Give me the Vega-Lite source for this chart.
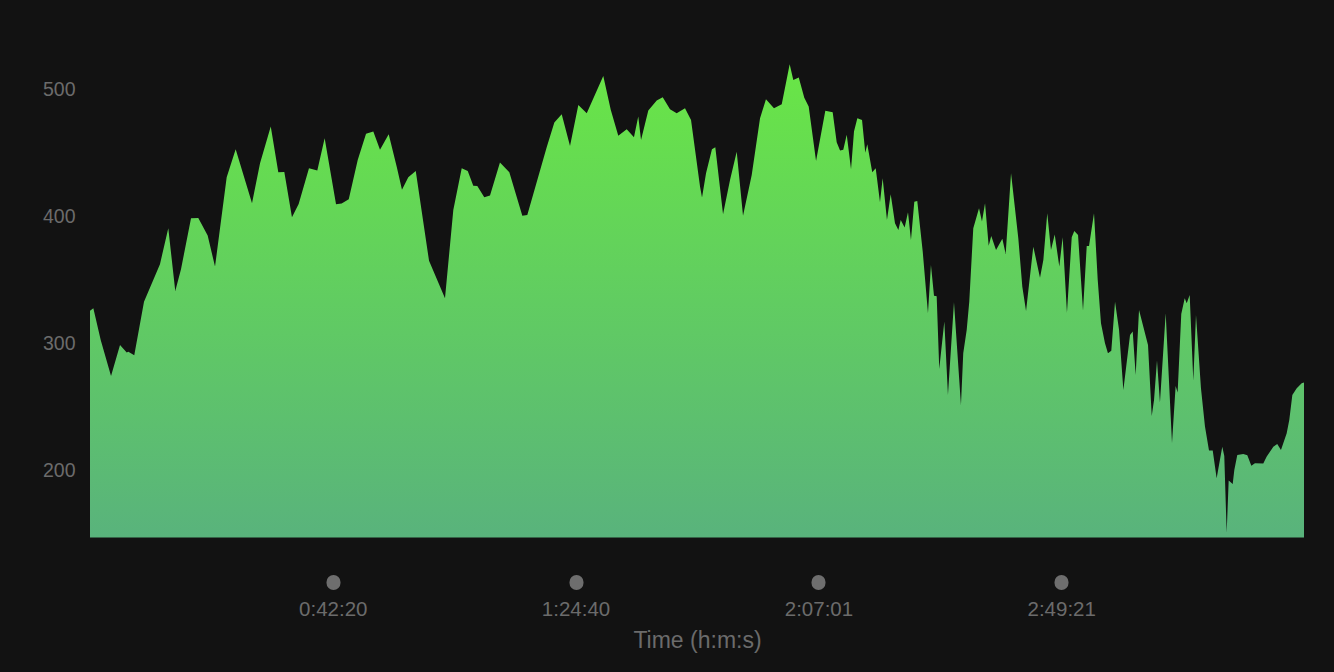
{
  "$schema": "https://vega.github.io/schema/vega-lite/v6.json",
  "width": 1214,
  "height": 473.5,
  "autosize": {"type": "none"},
  "padding": {"left": 90, "top": 64, "right": 30, "bottom": 134.5},
  "background": "#121212",
  "config": {
    "view": {"stroke": null},
    "font": "Liberation Sans"
  },
  "data": {
    "values": [
      {"t": 0, "v": 326.2}, {"t": 35, "v": 328.1}, {"t": 112, "v": 303.1}, {"t": 220, "v": 274.8},
      {"t": 314, "v": 299.2}, {"t": 384, "v": 293.2}, {"t": 401, "v": 293.9}, {"t": 463, "v": 291.1},
      {"t": 565, "v": 333.3}, {"t": 732, "v": 362.8}, {"t": 819, "v": 391.1}, {"t": 892, "v": 341.7},
      {"t": 952, "v": 358.8}, {"t": 1057, "v": 399.0}, {"t": 1133, "v": 399.2}, {"t": 1231, "v": 385.3},
      {"t": 1308, "v": 360.9}, {"t": 1430, "v": 431.3}, {"t": 1524, "v": 453.3}, {"t": 1695, "v": 410.8},
      {"t": 1779, "v": 442.3}, {"t": 1891, "v": 471.1}, {"t": 1970, "v": 435.2}, {"t": 2033, "v": 435.4},
      {"t": 2113, "v": 399.8}, {"t": 2183, "v": 410.2}, {"t": 2291, "v": 438.3}, {"t": 2378, "v": 436.5},
      {"t": 2455, "v": 462.0}, {"t": 2574, "v": 410.0}, {"t": 2633, "v": 410.5}, {"t": 2707, "v": 413.9},
      {"t": 2801, "v": 444.9}, {"t": 2888, "v": 465.4}, {"t": 2964, "v": 467.2}, {"t": 3034, "v": 452.8},
      {"t": 3125, "v": 465.1}, {"t": 3209, "v": 439.6}, {"t": 3264, "v": 421.3}, {"t": 3330, "v": 431.3},
      {"t": 3408, "v": 436.2}, {"t": 3547, "v": 365.4}, {"t": 3714, "v": 336.0}, {"t": 3801, "v": 405.5},
      {"t": 3889, "v": 438.3}, {"t": 3952, "v": 436.2}, {"t": 4010, "v": 424.6}, {"t": 4052, "v": 424.4},
      {"t": 4125, "v": 415.5}, {"t": 4185, "v": 416.8}, {"t": 4289, "v": 442.8}, {"t": 4387, "v": 435.2},
      {"t": 4523, "v": 401.0}, {"t": 4575, "v": 401.6}, {"t": 4778, "v": 454.9}, {"t": 4858, "v": 474.3},
      {"t": 4935, "v": 480.9}, {"t": 5022, "v": 455.9}, {"t": 5109, "v": 488.2}, {"t": 5197, "v": 481.7},
      {"t": 5370, "v": 511.0}, {"t": 5448, "v": 484.3}, {"t": 5527, "v": 464.0}, {"t": 5615, "v": 469.1},
      {"t": 5691, "v": 462.8}, {"t": 5736, "v": 479.0}, {"t": 5765, "v": 460.6}, {"t": 5841, "v": 483.7},
      {"t": 5929, "v": 491.6}, {"t": 5992, "v": 494.3}, {"t": 6068, "v": 484.8}, {"t": 6138, "v": 481.7},
      {"t": 6225, "v": 485.6}, {"t": 6288, "v": 476.4}, {"t": 6382, "v": 423.9}, {"t": 6403, "v": 415.2},
      {"t": 6445, "v": 434.4}, {"t": 6507, "v": 453.3}, {"t": 6542, "v": 454.9}, {"t": 6623, "v": 402.1},
      {"t": 6696, "v": 429.1}, {"t": 6766, "v": 451.4}, {"t": 6832, "v": 401.0}, {"t": 6923, "v": 433.1},
      {"t": 7010, "v": 477.7}, {"t": 7072, "v": 492.7}, {"t": 7156, "v": 485.6}, {"t": 7237, "v": 488.7},
      {"t": 7320, "v": 520.2}, {"t": 7358, "v": 507.9}, {"t": 7415, "v": 509.7}, {"t": 7473, "v": 493.9},
      {"t": 7519, "v": 486.9}, {"t": 7596, "v": 444.1}, {"t": 7693, "v": 483.5}, {"t": 7770, "v": 482.4},
      {"t": 7812, "v": 458.8}, {"t": 7847, "v": 452.2}, {"t": 7881, "v": 452.8}, {"t": 7917, "v": 464.6},
      {"t": 7962, "v": 437.6}, {"t": 7993, "v": 467.2}, {"t": 8028, "v": 477.7}, {"t": 8077, "v": 476.4},
      {"t": 8111, "v": 450.6}, {"t": 8132, "v": 457.2}, {"t": 8184, "v": 435.2}, {"t": 8220, "v": 438.3},
      {"t": 8265, "v": 411.6}, {"t": 8293, "v": 430.5}, {"t": 8338, "v": 397.6}, {"t": 8377, "v": 417.9},
      {"t": 8422, "v": 395.0}, {"t": 8457, "v": 389.8}, {"t": 8482, "v": 397.6}, {"t": 8523, "v": 391.6},
      {"t": 8558, "v": 403.7}, {"t": 8589, "v": 381.9}, {"t": 8624, "v": 412.0}, {"t": 8655, "v": 412.6},
      {"t": 8712, "v": 372.7}, {"t": 8767, "v": 324.2}, {"t": 8798, "v": 362.2}, {"t": 8830, "v": 338.0},
      {"t": 8858, "v": 337.6}, {"t": 8885, "v": 280.3}, {"t": 8938, "v": 317.6}, {"t": 8976, "v": 259.8},
      {"t": 9039, "v": 332.8}, {"t": 9112, "v": 252.0}, {"t": 9136, "v": 292.7}, {"t": 9172, "v": 311.0},
      {"t": 9199, "v": 333.3}, {"t": 9241, "v": 391.1}, {"t": 9301, "v": 406.9}, {"t": 9332, "v": 396.3},
      {"t": 9364, "v": 410.8}, {"t": 9402, "v": 377.4}, {"t": 9429, "v": 385.0}, {"t": 9479, "v": 374.0},
      {"t": 9545, "v": 382.9}, {"t": 9580, "v": 370.9}, {"t": 9636, "v": 434.4}, {"t": 9712, "v": 383.2},
      {"t": 9754, "v": 345.1}, {"t": 9793, "v": 326.0}, {"t": 9869, "v": 376.6}, {"t": 9939, "v": 352.2},
      {"t": 9974, "v": 366.1}, {"t": 10015, "v": 402.9}, {"t": 10054, "v": 374.0}, {"t": 10093, "v": 386.1},
      {"t": 10141, "v": 360.9}, {"t": 10176, "v": 384.0}, {"t": 10221, "v": 324.6}, {"t": 10271, "v": 384.0},
      {"t": 10298, "v": 389.0}, {"t": 10337, "v": 385.8}, {"t": 10389, "v": 326.2}, {"t": 10428, "v": 377.2},
      {"t": 10452, "v": 377.2}, {"t": 10504, "v": 402.9}, {"t": 10543, "v": 350.4}, {"t": 10577, "v": 316.3},
      {"t": 10619, "v": 300.6}, {"t": 10650, "v": 292.7}, {"t": 10685, "v": 294.7}, {"t": 10724, "v": 333.3},
      {"t": 10766, "v": 311.0}, {"t": 10811, "v": 263.8}, {"t": 10881, "v": 307.1}, {"t": 10909, "v": 309.7},
      {"t": 10940, "v": 275.6}, {"t": 10975, "v": 326.8}, {"t": 11020, "v": 313.6}, {"t": 11069, "v": 299.2},
      {"t": 11108, "v": 243.3}, {"t": 11132, "v": 255.9}, {"t": 11163, "v": 286.9}, {"t": 11194, "v": 253.8},
      {"t": 11254, "v": 324.2}, {"t": 11320, "v": 221.8}, {"t": 11358, "v": 266.9}, {"t": 11379, "v": 261.7},
      {"t": 11417, "v": 323.6}, {"t": 11453, "v": 336.0}, {"t": 11474, "v": 332.0}, {"t": 11505, "v": 338.6},
      {"t": 11543, "v": 271.1}, {"t": 11571, "v": 322.8}, {"t": 11623, "v": 265.1}, {"t": 11665, "v": 234.9},
      {"t": 11707, "v": 216.0}, {"t": 11746, "v": 216.0}, {"t": 11787, "v": 194.3}, {"t": 11846, "v": 219.1},
      {"t": 11867, "v": 211.8}, {"t": 11892, "v": 151.4}, {"t": 11913, "v": 192.4}, {"t": 11955, "v": 189.8},
      {"t": 11972, "v": 200.8}, {"t": 12003, "v": 212.6}, {"t": 12066, "v": 213.4}, {"t": 12108, "v": 212.4},
      {"t": 12150, "v": 204.0}, {"t": 12188, "v": 206.1}, {"t": 12275, "v": 205.8}, {"t": 12311, "v": 211.3},
      {"t": 12380, "v": 219.1}, {"t": 12421, "v": 221.3}, {"t": 12460, "v": 216.5}, {"t": 12520, "v": 229.7},
      {"t": 12547, "v": 240.2}, {"t": 12579, "v": 259.8}, {"t": 12625, "v": 265.1}, {"t": 12677, "v": 269.1},
      {"t": 12701, "v": 269.6}
    ]
  },
  "mark": {
    "type": "area",
    "interpolate": "linear",
    "fill": {
      "gradient": "linear",
      "x1": 0, "y1": 0, "x2": 0, "y2": 1,
      "stops": [
        {"offset": 0, "color": "#69e646"},
        {"offset": 1, "color": "#59b37c"}
      ]
    }
  },
  "encoding": {
    "x": {
      "field": "t",
      "type": "quantitative",
      "scale": {"domain": [0, 12701], "nice": false, "zero": false},
      "axis": {
        "values": [2540, 5080, 7621, 10161],
        "labelExpr": "utcFormat(datum.value * 1000, '%-H:%M:%S')",
        "offset": 44,
        "domain": false,
        "grid": false,
        "ticks": true,
        "tickSize": 1,
        "tickWidth": 14,
        "tickCap": "round",
        "tickColor": "#6e6e6e",
        "labelColor": "#6b6b6b",
        "labelFontSize": 20.5,
        "labelBaseline": "alphabetic",
        "labelPadding": 32.8,
        "labelFlush": false,
        "labelOverlap": false,
        "title": "Time (h:m:s)",
        "titleColor": "#6b6b6b",
        "titleFontSize": 23,
        "titleFontWeight": "normal",
        "titleBaseline": "alphabetic",
        "titleY": 65.6
      }
    },
    "y": {
      "field": "v",
      "type": "quantitative",
      "scale": {"domain": [147.6, 520.4], "nice": false, "zero": false},
      "axis": {
        "values": [200, 300, 400, 500],
        "domain": false,
        "grid": false,
        "ticks": false,
        "labelPadding": 15,
        "labelColor": "#6b6b6b",
        "labelFontSize": 19.5,
        "title": null
      }
    },
    "y2": {"datum": 147.6}
  }
}
